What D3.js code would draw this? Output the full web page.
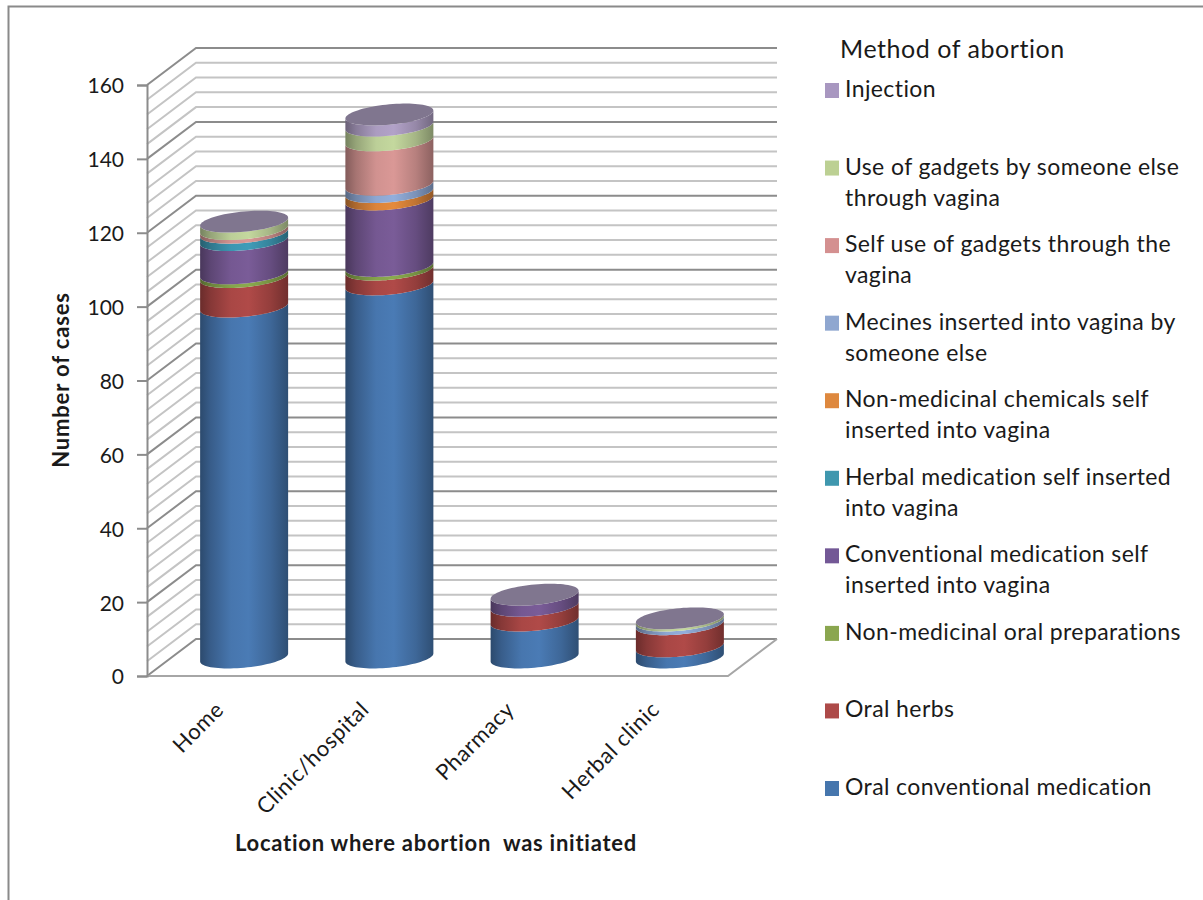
<!DOCTYPE html>
<html>
<head>
<meta charset="utf-8">
<script src="https://cdn.jsdelivr.net/npm/d3@7"></script>
<style>
html,body{margin:0;padding:0;background:#fff;}
svg{display:block;}
text{font-family:Lato,"Open Sans",sans-serif;fill:#1a1a1a;font-variant-ligatures:none;}
</style>
</head>
<body>
<svg id="chart" width="1203" height="900"></svg>
<script>
// Number of abortion cases by place of initiation, stacked by method.
const categories = ["Home", "Clinic/hospital", "Pharmacy", "Herbal clinic"];
const methods = [
  "Oral conventional medication",
  "Oral herbs",
  "Non-medicinal oral preparations",
  "Conventional medication self inserted into vagina",
  "Herbal medication self inserted into vagina",
  "Non-medicinal chemicals self inserted into vagina",
  "Mecines inserted into vagina by someone else",
  "Self use of gadgets through the vagina",
  "Use of gadgets by someone else through vagina",
  "Injection"
];
const legendLines = [
  ["Oral conventional medication"],
  ["Oral herbs"],
  ["Non-medicinal oral preparations"],
  ["Conventional medication self", "inserted into vagina"],
  ["Herbal medication self inserted", "into vagina"],
  ["Non-medicinal chemicals self", "inserted into vagina"],
  ["Mecines inserted into vagina by", "someone else"],
  ["Self use of gadgets through the", "vagina"],
  ["Use of gadgets by someone else", "through vagina"],
  ["Injection"]
];
const colors = ["#4a7bb5","#b04a48","#8bab4e","#7a5c98","#3f9cb8","#e58a3c","#93aedb","#da9896","#c4d89e","#b2a2c8"];
const legendColors = ["#4676ad","#ad4a49","#8aa64f","#735896","#3f97ae","#de883e","#8fa7d0","#d49090","#bcd093","#a897c0"];
const homeValues     = [95, 8, 1, 9, 2, 0, 0, 1, 2, 0];
const clinicValues   = [101, 4, 1, 18, 0, 2, 2, 12, 4, 3];
const pharmacyValues = [10, 4, 0, 3, 0, 0, 0, 0, 0, 0];
const herbalValues   = [3, 6, 0, 0, 0, 0, 1, 0, 0.6, 0];
const seriesByCategory = [homeValues, clinicValues, pharmacyValues, herbalValues];
const yTicks = d3.range(0, 161, 20);
const minorTicks = d3.range(0, 161, 4);

// Box geometry: the front plane and the receding depth of the wall and floor.
const left = 147, right = 728, depthX = 49, depthY = 37;
const capTop = "#80768f";
const rx = 44, ryShear = 4, ryOpen = 10.2;

const svg = d3.select("#chart");
const y = d3.scaleLinear().domain([0, 160]).range([676, 85]);
const x = d3.scaleBand().domain(categories).range([left, right]);

// Outer frame
svg.append("path").attr("d", "M8.5,900V6.5H1203").attr("fill", "none").attr("stroke", "#8a8a8a").attr("stroke-width", 2);

// Gridlines on the back wall and the matching diagonals on the side wall
const grid = svg.append("g").attr("fill", "none");
minorTicks.forEach(t => {
  const major = t % 20 === 0;
  grid.append("path")
    .attr("d", `M${left},${y(t)}L${left + depthX},${y(t) - depthY}L${right + depthX},${y(t) - depthY}`)
    .attr("stroke", major ? "#8c8c8c" : "#c4c4c4").attr("stroke-width", 2);
});
// Floor edges
grid.append("path")
  .attr("d", `M${left},${y(0)}L${right},${y(0)}L${right + depthX},${y(0) - depthY}`)
  .attr("stroke", "#a6a6a6").attr("stroke-width", 2);

// Value axis
const axis = d3.axisLeft(y).tickValues(yTicks).tickSize(10).tickPadding(13);
const axisG = svg.append("g").attr("transform", `translate(${left},0)`).call(axis);
axisG.select(".domain").attr("stroke", "#8c8c8c").attr("stroke-width", 2);
axisG.selectAll("line").attr("stroke", "#8c8c8c").attr("stroke-width", 2);
axisG.selectAll("text").attr("dy", "0.38em").style("font-size", "21px").attr("fill", "#1a1a1a");

// Horizontal shading that makes each segment read as a cylinder
const defs = svg.append("defs");
colors.forEach((c, i) => {
  const g = defs.append("linearGradient").attr("id", "cyl" + i).attr("x1", 0).attr("x2", 1).attr("y1", 0).attr("y2", 0);
  [[0, 0.6], [0.12, 0.76], [0.35, 0.96], [0.55, 1], [0.8, 0.84], [1, 0.64]].forEach(([o, k]) => {
    const col = d3.rgb(c);
    g.append("stop").attr("offset", o).attr("stop-color", d3.rgb(col.r * k, col.g * k, col.b * k).formatHex());
  });
});

// A circle seen in perspective: the side tangents sit on a sloped line.
const ringPoint = (cx, cy, t) => [cx + rx * Math.cos(t), cy + ryOpen * Math.sin(t) - ryShear * Math.cos(t)];
const frontAngles = d3.range(0, 41).map(i => Math.PI * i / 40);
const allAngles = d3.range(0, 81).map(i => 2 * Math.PI * i / 80);
const line = d3.line();

const bars = svg.append("g");
categories.forEach((cat, ci) => {
  const cx = x(cat) + x.bandwidth() / 2 + depthX / 2;
  const base = v => y(v) - depthY / 2;
  let cum = 0;
  seriesByCategory[ci].forEach((v, si) => {
    if (!v) return;
    const y0 = base(cum), y1 = base(cum + v);
    const lower = frontAngles.map(t => ringPoint(cx, y0, t));
    const upper = frontAngles.map(t => ringPoint(cx, y1, t)).reverse();
    bars.append("path")
      .attr("d", line(lower.concat(upper)) + "Z")
      .attr("fill", `url(#cyl${si})`);
    cum += v;
  });
  bars.append("path")
    .attr("d", line(allAngles.map(t => ringPoint(cx, base(cum), t))) + "Z")
    .attr("fill", capTop);

  // Category label, rotated and ending under the bar
  svg.append("text")
    .attr("transform", `translate(${cx - 19},711) rotate(-45)`)
    .attr("text-anchor", "end")
    .style("font-size", "22px").style("letter-spacing", "0.6px")
    .text(cat);
});

// Axis titles
svg.append("text")
  .attr("transform", "translate(69,380) rotate(-90)")
  .attr("text-anchor", "middle")
  .style("font-size", "22px").style("font-weight", "700").style("letter-spacing", "0.85px")
  .text("Number of cases");
svg.append("text")
  .attr("x", 436).attr("y", 851)
  .attr("text-anchor", "middle")
  .attr("xml:space", "preserve").style("white-space", "pre")
  .style("font-size", "22px").style("font-weight", "700").style("letter-spacing", "0.75px")
  .text("Location where abortion  was initiated");

// Legend, Injection on top down to Oral conventional medication
svg.append("text").attr("x", 840).attr("y", 58).style("font-size", "25px").style("letter-spacing", "0.55px").text("Method of abortion");
const legendY = d3.scalePoint().domain(d3.range(9, -1, -1)).range([97, 795]);
legendLines.forEach((lines, i) => {
  const ly = legendY(i);
  svg.append("rect").attr("x", 825).attr("y", ly - 14).attr("width", 14).attr("height", 15).attr("fill", legendColors[i]);
  lines.forEach((s, k) => {
    svg.append("text").attr("x", 845).attr("y", ly + k * 31)
      .style("font-size", "23px").style("letter-spacing", "0.4px").text(s);
  });
});
</script>
</body>
</html>
